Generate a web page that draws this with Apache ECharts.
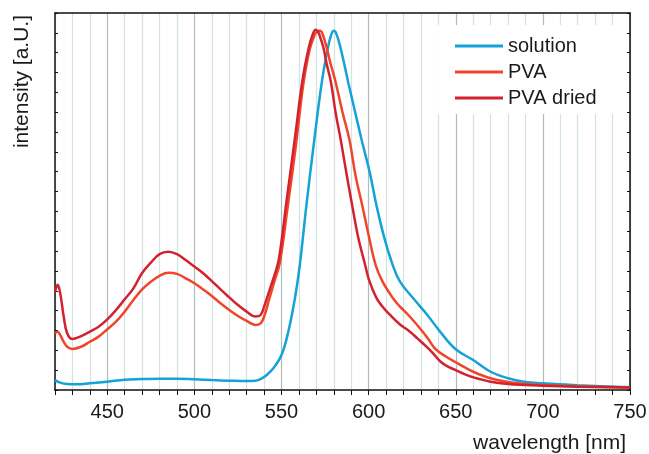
<!DOCTYPE html>
<html lang="en">
<head>
<meta charset="UTF-8">
<title>emission spectra</title>
<script src="https://cdn.jsdelivr.net/npm/echarts@6/dist/echarts.min.js"></script>
<style>
    body { margin: 0; background: #fff; }
    #chart { width: 649px; height: 454px; }
</style>
</head>
<body>
<div id="chart"></div>
<script>
    // values: wavelength [nm] and intensity [a.U.]
    var solutionNm  = [420, 423, 427, 432, 440, 450, 460, 470, 480, 490, 500, 510, 520, 530, 535, 538, 541.5, 545.3, 550, 553.9, 557.7, 560.5, 564.2, 568.8, 573.1, 576.5, 578.5, 580, 581.5, 584, 588.3, 592, 596, 600.8, 604.5, 609.2, 613.8, 618, 625.6, 633.7, 641, 650, 660, 670, 680, 690, 700, 720, 750];
    var solutionVal = [0.5, 0.37, 0.3, 0.29, 0.34, 0.42, 0.52, 0.55, 0.57, 0.57, 0.54, 0.5, 0.47, 0.45, 0.47, 0.55, 0.76, 1.09, 1.76, 2.94, 4.62, 6.3, 9.24, 12.6, 15.5, 17.2, 17.9, 18.1, 17.95, 17.2, 15.5, 14.1, 12.6, 10.9, 9.3, 7.6, 6.3, 5.46, 4.62, 3.78, 2.94, 2.05, 1.51, 0.92, 0.59, 0.4, 0.34, 0.24, 0.14];

    var pvaNm  = [420, 421.5, 423, 425, 427, 430, 435, 440, 445, 450, 455, 460, 465, 470, 475, 480, 485, 490, 495, 500, 505, 510, 515, 520, 525, 530, 535, 538, 540, 543, 546, 549, 553.5, 558.5, 562.5, 566, 569, 570.5, 572, 573.5, 576.1, 578, 581.1, 585, 589, 592.5, 596.5, 600, 604, 608, 614, 618, 622.8, 629.5, 634, 638, 644, 650, 655, 660, 670, 680, 690, 700, 720, 750];
    var pvaVal = [2.86, 2.94, 2.77, 2.43, 2.18, 2.07, 2.18, 2.43, 2.69, 3.06, 3.44, 3.95, 4.54, 5.07, 5.46, 5.75, 5.91, 5.85, 5.63, 5.38, 5.07, 4.74, 4.37, 4.03, 3.73, 3.48, 3.28, 3.36, 3.7, 4.6, 5.5, 6.4, 9.2, 12.5, 15.4, 17.1, 17.9, 18.07, 18.1, 17.95, 17.2, 16.5, 15.5, 14.0, 12.6, 10.8, 9.24, 7.8, 6.3, 5.46, 4.62, 4.2, 3.78, 3.1, 2.6, 2.1, 1.7, 1.4, 1.15, 0.92, 0.59, 0.4, 0.3, 0.25, 0.19, 0.12];

    var driedNm  = [420, 421.5, 423, 425, 427, 430, 435, 440, 445, 450, 455, 460, 465, 470, 475, 480, 485, 490, 495, 500, 505, 510, 515, 520, 525, 530, 535, 538, 540, 543, 546, 548.5, 553, 558, 562, 565.5, 568, 569.6, 571, 572.5, 574.2, 576, 578.4, 581, 584, 587.5, 590.7, 594, 598, 600.4, 604.6, 608, 612.3, 618, 623.7, 628, 633, 637, 641, 645, 650, 655, 660, 670, 680, 690, 700, 720, 750];
    var driedVal = [4.95, 5.3, 4.87, 3.7, 2.86, 2.57, 2.72, 2.94, 3.19, 3.56, 4.03, 4.57, 5.12, 5.9, 6.42, 6.85, 6.97, 6.85, 6.55, 6.22, 5.88, 5.49, 5.07, 4.67, 4.28, 3.95, 3.7, 3.78, 4.2, 5.0, 5.8, 6.6, 9.6, 12.9, 15.6, 17.2, 17.95, 18.15, 18.05, 17.7, 17.2, 16.4, 15.5, 14.0, 12.6, 10.8, 9.24, 7.7, 6.3, 5.5, 4.62, 4.2, 3.78, 3.3, 2.94, 2.6, 2.2, 1.85, 1.45, 1.2, 1.0, 0.8, 0.64, 0.42, 0.3, 0.25, 0.22, 0.17, 0.12];

    var seriesNames = ['solution', 'PVA', 'PVA dried'];
    var seriesColors = ['#15a2d6', '#f1452a', '#d3222f'];
    var xLabels = [450, 500, 550, 600, 650, 700, 750];

    function pairs(xs, ys) {
        return xs.map(function (x, i) { return [x, ys[i]]; });
    }

    var font = '"Liberation Sans", Arial, sans-serif';
    var minorGrid = '#d3e2e2';
    var majorGrid = '#afbcbc';
    var frame = { color: '#111', width: 1.5 };

    var chart = echarts.init(document.getElementById('chart'));

    var dataSets = [pairs(solutionNm, solutionVal), pairs(pvaNm, pvaVal), pairs(driedNm, driedVal)];

    chart.setOption({
        animation: false,
        grid: { left: 55, right: 19, top: 13, bottom: 64, outerBoundsMode: 'none' },
        xAxis: [{
            type: 'value',
            min: 420,
            max: 750,
            interval: 10,
            axisLine: { show: true, onZero: false, lineStyle: frame },
            axisTick: { show: true, length: 5, lineStyle: { color: '#111', width: 1 } },
            axisLabel: {
                margin: 12,
                fontSize: 20,
                fontFamily: font,
                color: '#1a1a1a',
                formatter: function (v) { return xLabels.indexOf(v) >= 0 ? String(v) : ''; }
            },
            splitLine: {
                show: true,
                lineStyle: { width: 1.2, color: [minorGrid, minorGrid, minorGrid, majorGrid, minorGrid] }
            }
        }, {
            type: 'value',
            position: 'top',
            min: 420,
            max: 750,
            axisLine: { show: true, onZero: false, lineStyle: frame },
            axisTick: { show: false },
            axisLabel: { show: false },
            splitLine: { show: false }
        }],
        yAxis: [{
            type: 'value',
            min: 0,
            max: 19,
            interval: 1,
            axisLine: { show: true, lineStyle: frame },
            axisTick: { show: true, inside: true, length: 3, lineStyle: { color: '#111' } },
            axisLabel: { show: false },
            splitLine: { show: false }
        }, {
            type: 'value',
            position: 'right',
            min: 0,
            max: 19,
            interval: 1,
            axisLine: { show: true, lineStyle: frame },
            axisTick: { show: true, inside: true, length: 3, lineStyle: { color: '#111' } },
            axisLabel: { show: false },
            splitLine: { show: false }
        }],
        legend: {
            orient: 'vertical',
            left: 438,
            top: 25,
            padding: [10, 22, 5, 17],
            backgroundColor: '#fff',
            icon: 'rect',
            itemWidth: 48,
            itemHeight: 3,
            itemGap: 4,
            textStyle: { fontFamily: font, fontSize: 20, color: '#1a1a1a', lineHeight: 22 },
            data: seriesNames
        },
        graphic: [{
            type: 'text',
            x: 22,
            y: 15,
            rotation: Math.PI / 2,
            style: { text: 'intensity [a.U.]', font: '21px ' + font, fill: '#1a1a1a', align: 'right', verticalAlign: 'middle' }
        }, {
            type: 'text',
            x: 626,
            y: 443,
            style: { text: 'wavelength [nm]', font: '21px ' + font, fill: '#1a1a1a', align: 'right', verticalAlign: 'middle' }
        }],
        series: seriesNames.map(function (name, i) {
            return {
                name: name,
                type: 'line',
                data: dataSets[i],
                showSymbol: false,
                smooth: 0.4,
                color: seriesColors[i],
                lineStyle: { width: 2.5, color: seriesColors[i] }
            };
        })
    });
</script>
</body>
</html>
